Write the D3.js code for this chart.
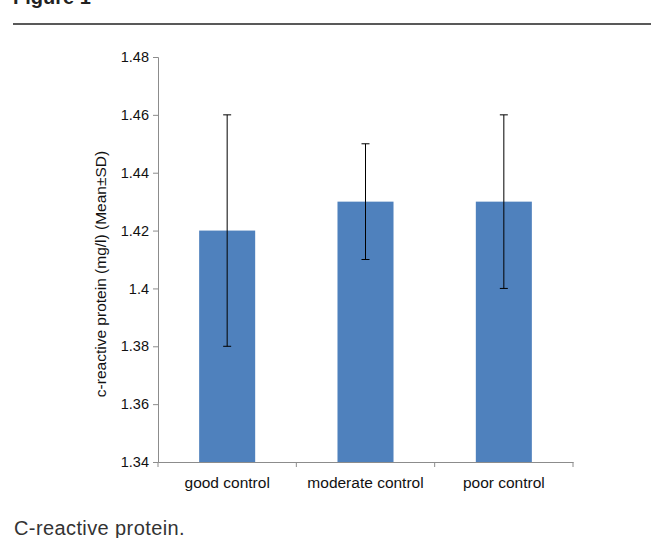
<!DOCTYPE html>
<html>
<head>
<meta charset="utf-8">
<script src="https://cdn.jsdelivr.net/npm/d3@7"></script>
<style>
  body { margin: 0; background: #fff; }
  svg { display: block; }
</style>
</head>
<body>
<svg id="fig" width="653" height="538"></svg>
<script>
// data
var categories = ["good control", "moderate control", "poor control"];
var means = [1.42, 1.43, 1.43];
var sds = [0.04, 0.02, 0.03];
var yTicks = [1.34, 1.36, 1.38, 1.4, 1.42, 1.44, 1.46, 1.48];

var svg = d3.select("#fig");
var font = "Liberation Sans, Arial, sans-serif";

// figure heading (cropped at the top in the original) + rule
svg.append("text")
    .attr("x", 13).attr("y", 4)
    .attr("font-family", font).attr("font-size", 20).attr("font-weight", "bold")
    .attr("fill", "#222")
    .text("Figure 1");
svg.append("line")
    .attr("x1", 13).attr("x2", 651).attr("y1", 24).attr("y2", 24)
    .attr("stroke", "#222").attr("stroke-width", 1.3);

var x = d3.scaleBand().domain(categories).range([158, 573]).paddingInner(0).paddingOuter(0);
var y = d3.scaleLinear().domain([1.34, 1.48]).range([462, 57]);

var g = svg.append("g");

// y axis
var yAxis = d3.axisLeft(y).tickValues(yTicks).tickSize(5).tickPadding(4)
    .tickFormat(function(d) { return d3.format("")(+d.toFixed(2)); });
var ya = g.append("g").attr("transform", "translate(158,0)").call(yAxis);
ya.select(".domain").attr("stroke", "#8c8c8c");
ya.selectAll(".tick line").attr("stroke", "#8c8c8c");
ya.selectAll("text").attr("font-family", font).attr("font-size", 14.5).attr("fill", "#111");

// bars
var bw = x.bandwidth() * 0.405;
g.selectAll("rect.bar").data(categories).enter().append("rect")
    .attr("class", "bar")
    .attr("x", function(d) { return x(d) + x.bandwidth() / 2 - bw / 2; })
    .attr("width", bw)
    .attr("y", function(d, i) { return y(means[i]); })
    .attr("height", function(d, i) { return y(1.34) - y(means[i]); })
    .attr("fill", "#4f81bd");

// x axis
var xAxis = d3.axisBottom(x).tickSize(0).tickPadding(15);
var xa = g.append("g").attr("transform", "translate(0,462)").call(xAxis);
xa.select(".domain").attr("stroke", "#8c8c8c");
xa.selectAll("text").attr("font-family", font).attr("font-size", 15.5).attr("fill", "#111");
// boundary ticks between categories
var bounds = categories.map(function(d) { return x(d); }).concat([x.range()[1]]);
xa.selectAll("line.bnd").data(bounds).enter().append("line")
    .attr("class", "bnd")
    .attr("x1", function(d) { return d; }).attr("x2", function(d) { return d; })
    .attr("y1", 0).attr("y2", 5)
    .attr("stroke", "#8c8c8c");

// error bars
var eb = g.selectAll("g.err").data(categories).enter().append("g").attr("class", "err");
eb.append("line")
    .attr("x1", function(d) { return x(d) + x.bandwidth() / 2; })
    .attr("x2", function(d) { return x(d) + x.bandwidth() / 2; })
    .attr("y1", function(d, i) { return y(means[i] - sds[i]); })
    .attr("y2", function(d, i) { return y(means[i] + sds[i]); })
    .attr("stroke", "#000").attr("stroke-width", 1);
[-1, 1].forEach(function(s) {
  eb.append("line")
      .attr("x1", function(d) { return x(d) + x.bandwidth() / 2 - 4; })
      .attr("x2", function(d) { return x(d) + x.bandwidth() / 2 + 4; })
      .attr("y1", function(d, i) { return y(means[i] + s * sds[i]); })
      .attr("y2", function(d, i) { return y(means[i] + s * sds[i]); })
      .attr("stroke", "#000").attr("stroke-width", 1);
});

// y title
svg.append("text")
    .attr("transform", "translate(106,274) rotate(-90)")
    .attr("text-anchor", "middle")
    .attr("font-family", font).attr("font-size", 15.5).attr("fill", "#111")
    .text("c-reactive protein (mg/l) (Mean±SD)");

// caption
svg.append("text")
    .attr("x", 14).attr("y", 535)
    .attr("font-family", font).attr("font-size", 20)
    .attr("letter-spacing", 0.4)
    .attr("fill", "#333")
    .text("C-reactive protein.");
</script>
</body>
</html>
